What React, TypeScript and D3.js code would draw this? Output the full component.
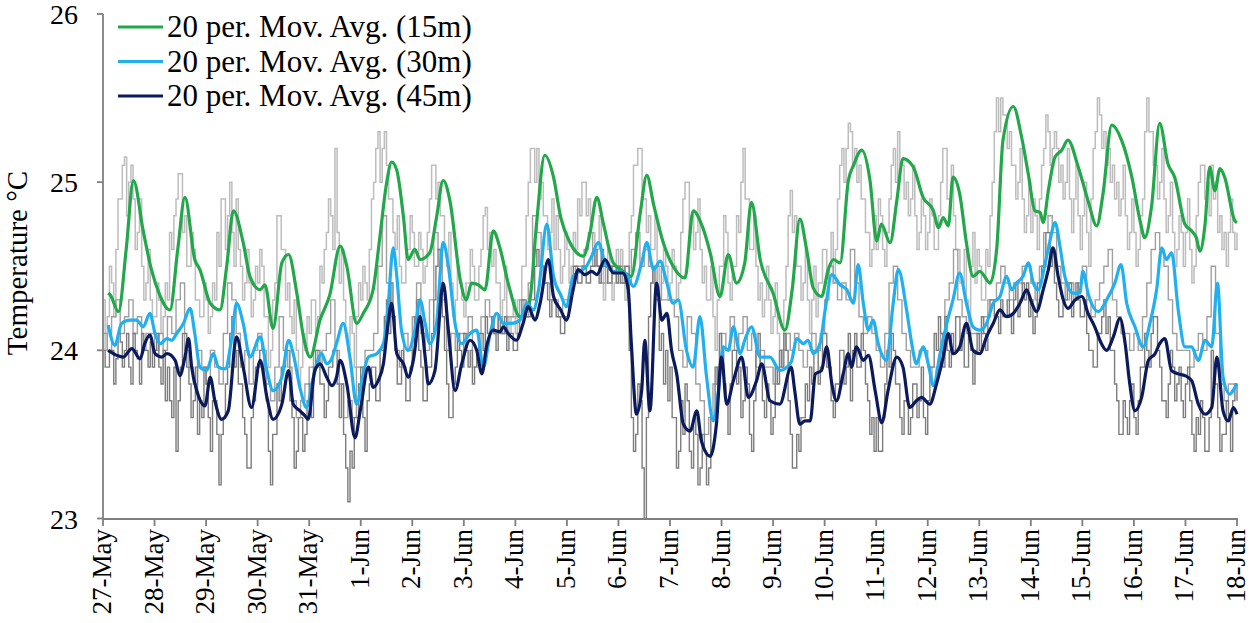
import React from 'react';
import * as d3 from 'd3';

const dayLabels = ['27-May','28-May','29-May','30-May','31-May','1-Jun','2-Jun','3-Jun','4-Jun','5-Jun','6-Jun','7-Jun','8-Jun','9-Jun','10-Jun','11-Jun','12-Jun','13-Jun','14-Jun','15-Jun','16-Jun','17-Jun','18-Jun'];
const yTicks = [23, 24, 25, 26];
const seriesNames = ['20 per. Mov. Avg. (15m)', '20 per. Mov. Avg. (30m)', '20 per. Mov. Avg. (45m)'];
const seriesColors = ['#22a84a', '#20b0f0', '#0b1a5c'];

// raw hourly readings (15 m sensor, light grey)
const raw15PerDay = 24;
const raw15 = [
  24.3,24.0,24.2,24.5,24.4,24.2,24.6,24.9,24.9,25.1,25.15,24.8,25.0,25.1,24.9,24.6,24.7,24.9,24.5,24.3,24.4,24.6,24.3,24.2,
  24.2,24.4,24.3,24.1,24.2,24.4,24.3,24.7,24.6,24.8,24.9,25.05,25.05,24.7,24.8,24.5,24.5,24.7,24.6,24.3,24.3,24.2,24.2,24.4,
  24.3,24.1,24.2,24.4,24.3,24.7,24.5,24.9,24.9,24.6,24.8,25.0,24.7,24.5,24.9,24.6,24.5,24.3,24.4,24.6,24.4,24.2,24.3,24.5,
  24.4,24.6,24.5,24.2,24.2,23.9,24.0,24.3,24.4,24.8,24.8,24.6,24.6,24.3,24.4,24.2,24.1,24.3,24.0,23.8,23.9,24.1,24.0,24.2,
  24.1,24.3,24.3,24.1,24.2,24.5,24.4,24.6,24.7,24.9,24.8,24.6,25.2,24.7,24.4,24.6,24.3,24.1,24.0,24.2,24.1,23.9,24.2,24.4,
  24.3,24.5,24.4,24.3,24.6,24.9,25.0,25.2,25.3,25.0,25.2,25.3,25.1,24.9,24.9,24.7,24.6,24.8,24.5,24.4,24.4,24.6,24.6,24.8,
  24.7,24.5,24.5,24.7,24.6,24.4,24.5,24.7,24.9,25.1,25.1,24.9,25.0,24.8,24.8,24.6,24.5,24.7,24.4,24.2,24.3,24.5,24.4,24.3,
  24.2,24.4,24.4,24.6,24.5,24.3,24.3,24.5,24.6,24.8,24.85,24.6,24.7,24.5,24.6,24.4,24.4,24.2,24.3,24.5,24.2,24.1,24.2,24.3,
  24.1,24.3,24.3,24.5,24.5,24.8,25.0,25.2,25.2,25.0,25.2,24.9,25.0,24.8,24.8,24.6,24.7,24.9,24.6,24.8,24.6,24.4,24.5,24.7,
  24.6,24.4,24.5,24.7,24.6,24.9,24.8,25.0,25.0,24.8,24.9,24.7,24.7,24.5,24.6,24.8,24.5,24.3,24.4,24.6,24.5,24.3,24.4,24.6,
  24.4,24.6,24.5,24.3,24.4,24.7,24.8,25.1,25.1,25.2,25.2,24.9,24.9,24.7,24.8,24.6,24.6,24.8,24.5,24.3,24.4,24.6,24.5,24.3,
  24.4,24.6,24.5,24.3,24.4,24.7,24.9,25.0,25.0,24.7,24.8,24.6,24.7,24.9,24.6,24.4,24.5,24.3,24.3,24.5,24.2,24.0,24.3,24.5,
  24.5,24.8,24.7,24.4,24.3,24.5,24.5,24.8,24.7,25.0,25.2,24.9,24.9,24.6,24.6,24.8,24.5,24.3,24.4,24.2,24.3,24.5,24.3,24.1,
  24.2,24.4,24.1,23.9,24.0,24.3,24.5,24.8,24.95,24.7,24.8,24.5,24.5,24.3,24.4,24.6,24.3,24.1,24.3,24.5,24.2,24.4,24.4,24.6,
  24.6,24.4,24.5,24.7,24.4,24.6,24.9,25.1,25.2,25.0,25.2,25.35,25.3,25.1,25.2,25.0,25.1,24.9,24.9,24.7,24.7,24.5,24.6,24.8,
  24.6,24.9,24.8,24.6,24.5,24.7,24.9,25.1,25.2,25.0,25.3,25.1,25.1,24.9,25.0,24.8,24.9,25.1,24.8,24.6,24.7,24.9,24.8,24.6,
  24.7,24.9,24.8,24.6,24.6,24.8,25.0,25.2,25.2,24.9,24.9,25.1,24.8,24.6,24.6,24.4,24.4,24.6,24.3,24.1,24.5,24.7,24.4,24.6,
  24.5,24.3,24.3,24.6,24.5,24.8,25.0,25.3,25.5,25.3,25.5,25.4,25.4,25.2,25.3,25.1,25.1,24.9,25.0,25.2,24.9,24.7,24.8,25.0,
  24.7,24.9,24.8,24.6,24.9,25.1,25.2,25.4,25.3,25.1,25.2,25.3,25.2,25.0,25.1,24.9,25.0,25.2,24.9,24.7,24.9,25.1,24.8,24.6,
  24.8,25.0,24.7,24.5,24.9,25.2,25.3,25.5,25.4,25.2,25.3,25.1,25.2,25.0,25.1,24.9,25.0,24.8,24.9,25.1,24.8,24.6,24.7,24.9,
  24.7,24.5,24.6,24.8,24.9,25.3,25.5,25.3,25.3,25.1,25.1,24.9,25.0,25.2,24.9,24.7,24.8,25.0,24.7,24.5,24.6,24.8,24.7,24.5,
  24.7,24.9,24.6,24.4,24.5,24.8,25.0,25.1,25.1,24.9,25.0,24.8,25.1,24.9,25.0,24.7,24.8,24.6,24.7,24.5,24.7,24.9,24.7,24.6,
  24.7
];

// raw 2-hourly readings (30 m sensor, mid grey)
const raw30PerDay = 12;
const raw30 = [
  24.1,24.0,24.2,24.3,24.1,24.2,24.3,24.1,24.2,24.0,24.1,24.1,
  24.0,24.1,24.0,24.2,24.1,24.3,24.4,24.0,23.9,23.8,24.0,23.9,
  23.8,24.0,23.9,23.8,24.1,24.4,24.3,24.1,23.9,24.0,23.8,24.0,
  24.1,24.0,23.8,23.7,23.9,24.2,24.0,23.9,23.7,23.6,23.7,23.8,
  23.9,24.0,23.9,24.0,24.1,24.3,24.0,23.8,23.6,23.7,23.6,23.9,
  23.9,24.0,24.0,24.1,24.5,24.8,24.4,24.2,24.0,23.9,24.1,24.0,
  24.2,24.4,24.1,24.0,24.3,24.7,24.6,24.3,24.0,24.1,24.0,24.1,
  24.1,24.2,23.9,24.0,24.2,24.3,24.2,24.1,24.2,24.1,24.2,24.2,
  24.2,24.3,24.2,24.4,24.8,24.7,24.5,24.4,24.3,24.3,24.2,24.3,
  24.3,24.4,24.5,24.5,24.6,24.7,24.5,24.5,24.4,24.5,24.5,24.5,
  24.5,24.4,24.4,24.6,24.7,24.5,24.6,24.5,24.4,24.5,24.3,24.3,
  24.3,24.2,24.0,23.9,24.2,24.1,23.8,23.7,23.5,23.6,23.8,23.9,
  24.1,24.0,24.2,24.0,24.1,24.2,24.0,24.1,23.9,24.0,23.9,23.9,
  23.8,23.9,24.0,24.1,24.0,24.1,24.0,23.9,24.0,24.1,24.0,24.1,
  24.3,24.5,24.4,24.3,24.4,24.3,24.6,24.4,24.2,24.1,24.2,24.1,
  24.0,23.9,24.1,24.4,24.5,24.3,24.1,24.0,23.9,23.9,24.0,24.0,
  23.9,23.8,23.9,24.1,24.3,24.4,24.6,24.3,24.2,24.1,24.1,24.1,
  24.1,24.2,24.3,24.3,24.4,24.5,24.4,24.3,24.4,24.4,24.5,24.5,
  24.4,24.3,24.5,24.7,24.8,24.7,24.5,24.4,24.3,24.4,24.3,24.4,
  24.5,24.3,24.2,24.3,24.4,24.5,24.6,24.3,24.2,24.1,24.1,24.0,
  24.1,24.0,24.2,24.4,24.6,24.7,24.6,24.5,24.3,24.1,24.0,24.0,
  24.0,23.9,24.0,24.1,24.0,24.2,24.5,24.1,23.8,23.7,23.8,23.8,
  23.8
];

// raw hourly readings (45 m sensor, dark grey)
const raw45PerDay = 24;
const raw45 = [
  24.0,23.9,23.9,24.0,24.0,23.8,23.95,24.1,24.05,23.9,24.0,24.1,23.9,23.8,24.1,24.0,23.95,23.8,24.1,24.0,24.0,23.9,24.05,23.9,
  24.0,24.1,23.9,23.8,24.0,23.7,23.9,23.7,23.6,23.9,23.4,23.7,23.9,24.1,24.1,23.9,23.8,23.6,23.7,23.9,23.5,23.7,23.6,23.9,
  23.8,23.6,23.4,23.7,23.7,23.5,23.2,23.5,23.6,23.8,23.9,24.1,24.2,23.9,24.0,23.8,23.8,23.6,23.5,23.3,23.3,23.6,23.7,23.9,
  23.9,24.0,24.0,23.8,23.7,23.4,23.2,23.5,23.5,23.8,23.7,23.9,23.9,24.0,24.0,23.7,23.6,23.3,23.4,23.6,23.6,23.4,23.5,23.7,
  23.8,23.6,23.9,24.0,24.0,23.8,23.8,23.6,23.7,23.9,23.9,24.0,24.0,23.8,23.6,23.8,23.5,23.3,23.1,23.4,23.3,23.6,23.6,23.8,
  23.9,23.6,23.4,23.7,23.8,23.9,23.9,23.7,23.7,24.0,24.0,24.2,24.3,24.1,24.4,24.2,24.0,23.8,23.8,24.0,23.9,23.7,23.7,23.9,
  24.0,24.2,24.3,24.0,23.9,23.7,23.7,23.9,23.9,24.1,24.3,24.5,24.6,24.4,24.2,24.0,23.8,23.6,23.6,23.8,23.9,24.1,24.0,23.9,
  24.1,24.0,23.9,24.0,23.8,23.9,24.0,24.1,24.1,24.0,24.2,24.1,24.1,24.2,24.1,24.0,24.2,24.1,24.1,24.2,24.0,24.1,24.1,24.0,
  24.0,24.1,24.2,24.3,24.3,24.2,24.2,24.3,24.3,24.5,24.6,24.5,24.5,24.4,24.4,24.3,24.2,24.3,24.3,24.2,24.2,24.1,24.1,24.2,
  24.2,24.3,24.4,24.5,24.5,24.4,24.4,24.5,24.5,24.4,24.4,24.5,24.5,24.6,24.5,24.4,24.6,24.5,24.5,24.4,24.4,24.5,24.5,24.4,
  24.5,24.4,24.4,24.5,24.5,24.0,23.6,23.4,23.5,23.8,23.7,23.3,23.0,23.6,24.2,24.4,24.5,24.3,24.3,24.0,24.1,23.8,24.0,23.7,
  23.9,23.6,23.6,23.3,23.4,23.7,23.5,23.8,23.7,23.4,23.3,23.6,23.5,23.2,23.3,23.5,23.4,23.2,23.3,23.6,23.6,23.9,23.8,24.1,
  24.0,23.8,23.7,23.5,23.8,24.0,24.0,23.8,23.9,23.6,23.7,23.9,23.8,23.5,23.4,23.7,24.0,24.1,23.9,23.7,23.6,23.8,23.7,23.5,
  23.6,23.9,23.8,24.0,23.9,24.1,24.0,23.7,23.5,23.3,23.3,23.5,23.4,23.6,23.6,23.8,23.7,23.9,23.8,24.0,24.0,23.8,23.9,24.1,
  24.1,23.9,23.9,23.7,23.6,23.8,23.8,24.0,24.0,23.8,23.9,24.1,23.7,24.0,24.1,23.9,23.9,24.1,24.0,23.8,23.7,23.5,23.6,23.4,
  23.6,23.4,23.4,23.6,23.8,24.0,23.9,24.1,24.0,23.8,23.8,23.6,23.5,23.7,23.7,23.5,23.6,23.8,23.8,23.6,23.7,23.9,23.6,23.5,
  23.7,23.9,23.9,24.1,24.0,24.2,24.1,23.9,24.2,24.0,23.9,24.1,24.0,24.2,24.2,24.0,24.1,23.9,23.9,24.1,24.0,23.8,24.0,24.1,
  24.0,24.2,24.1,24.0,24.2,24.3,24.3,24.2,24.2,24.1,24.3,24.2,24.2,24.3,24.2,24.1,24.3,24.4,24.2,24.3,24.4,24.3,24.4,24.2,
  24.3,24.1,24.2,24.4,24.4,24.5,24.5,24.7,24.7,24.5,24.6,24.4,24.3,24.2,24.2,24.3,24.3,24.4,24.4,24.2,24.3,24.4,24.3,24.2,
  24.2,24.3,24.1,24.0,24.0,23.9,23.9,24.1,24.1,24.2,24.3,24.1,24.2,24.0,24.0,23.8,23.7,23.5,23.5,23.7,23.6,23.5,23.7,23.8,
  23.6,23.5,23.7,23.9,23.9,24.1,24.0,23.9,24.1,24.2,24.2,24.0,23.9,23.7,23.7,23.6,23.8,24.0,23.9,23.7,23.8,23.9,23.7,23.6,
  23.8,23.9,23.7,23.5,23.4,23.6,23.5,23.7,23.6,23.4,23.4,23.6,24.0,23.8,23.8,23.6,23.4,23.5,23.5,23.7,23.6,23.4,23.7,23.8,
  23.7
];

// 20-period moving averages: [day offset from 27-May, temperature]
const ma15: [number, number][] = [
  [0.10,24.34],[0.14,24.33],[0.30,24.23],[0.45,24.6],[0.59,25.01],[0.78,24.71],[0.94,24.48],[1.10,24.33],[1.24,24.25],[1.30,24.24],[1.45,24.6],[1.59,24.91],[1.78,24.54],[1.88,24.48],[2.08,24.28],[2.27,24.24],[2.40,24.5],[2.53,24.83],[2.72,24.64],[2.85,24.44],[3.05,24.36],[3.14,24.39],[3.30,24.13],[3.47,24.52],[3.60,24.57],[3.76,24.34],[3.89,24.08],[4.02,23.96],[4.21,24.18],[4.40,24.33],[4.60,24.62],[4.73,24.50],[4.92,24.16],[5.05,24.22],[5.24,24.36],[5.37,24.67],[5.50,24.99],[5.60,25.12],[5.70,25.07],[5.83,24.79],[5.92,24.54],[6.05,24.60],[6.15,24.54],[6.34,24.58],[6.47,24.79],[6.60,25.01],[6.73,24.89],[6.93,24.42],[7.05,24.30],[7.15,24.40],[7.28,24.39],[7.41,24.36],[7.57,24.71],[7.70,24.61],[7.86,24.40],[8.09,24.20],[8.28,24.30],[8.41,24.75],[8.57,25.16],[8.74,25.03],[8.88,24.79],[9.06,24.64],[9.32,24.56],[9.45,24.70],[9.58,24.91],[9.71,24.75],[9.90,24.52],[10.09,24.47],[10.25,24.44],[10.42,24.81],[10.55,25.04],[10.68,24.87],[10.87,24.64],[11.06,24.50],[11.29,24.43],[11.45,24.83],[11.61,24.75],[11.78,24.58],[11.97,24.32],[12.13,24.57],[12.29,24.40],[12.45,24.52],[12.58,24.88],[12.75,24.54],[13.00,24.34],[13.23,24.12],[13.37,24.36],[13.52,24.78],[13.65,24.60],[13.78,24.37],[13.94,24.32],[14.07,24.48],[14.17,24.54],[14.30,24.52],[14.46,25.01],[14.56,25.10],[14.72,25.19],[14.88,25.01],[15.01,24.65],[15.10,24.75],[15.27,24.64],[15.40,24.89],[15.52,25.14],[15.72,25.09],[15.91,24.91],[16.11,24.83],[16.21,24.73],[16.30,24.79],[16.40,24.74],[16.49,25.03],[16.62,24.93],[16.75,24.64],[16.88,24.44],[17.01,24.47],[17.21,24.40],[17.34,24.61],[17.46,25.25],[17.66,25.45],[17.82,25.27],[17.95,25.05],[18.08,24.83],[18.18,24.82],[18.24,24.76],[18.34,24.95],[18.47,25.15],[18.60,25.19],[18.72,25.25],[18.92,25.09],[19.11,24.89],[19.28,24.74],[19.40,24.93],[19.57,25.34],[19.76,25.25],[19.96,25.03],[20.12,24.77],[20.21,24.67],[20.34,24.85],[20.50,25.35],[20.66,25.11],[20.79,25.03],[20.99,24.75],[21.12,24.71],[21.21,24.67],[21.28,24.59],[21.38,24.75],[21.47,25.09],[21.57,24.95],[21.67,25.08],[21.76,25.03],[21.96,24.77],[22.0,24.76]
];

const ma30: [number, number][] = [
  [0.10,24.15],[0.23,24.03],[0.36,24.16],[0.52,24.18],[0.65,24.18],[0.78,24.14],[0.91,24.22],[1.01,24.10],[1.11,24.04],[1.24,24.07],[1.33,24.06],[1.43,24.10],[1.56,24.16],[1.69,24.25],[1.78,24.10],[1.88,23.90],[2.01,23.88],[2.14,23.98],[2.24,23.90],[2.37,23.89],[2.50,24.08],[2.59,24.28],[2.72,24.16],[2.85,23.96],[3.05,24.08],[3.18,23.88],[3.30,23.76],[3.47,23.84],[3.60,24.06],[3.69,23.98],[3.82,23.78],[3.95,23.66],[4.08,23.84],[4.24,23.98],[4.34,23.92],[4.42,23.94],[4.53,24.04],[4.66,24.16],[4.79,23.96],[4.92,23.68],[5.05,23.86],[5.15,23.96],[5.31,23.98],[5.44,24.04],[5.53,24.26],[5.63,24.61],[5.70,24.44],[5.79,24.12],[5.92,24.00],[6.05,24.12],[6.15,24.30],[6.25,24.16],[6.34,24.04],[6.47,24.16],[6.60,24.64],[6.70,24.50],[6.83,24.16],[6.96,24.04],[7.12,24.10],[7.25,24.12],[7.38,23.90],[7.51,24.10],[7.64,24.22],[7.77,24.16],[7.93,24.16],[8.09,24.18],[8.22,24.28],[8.35,24.24],[8.45,24.36],[8.61,24.75],[8.74,24.44],[8.88,24.33],[8.99,24.26],[9.12,24.44],[9.25,24.47],[9.38,24.50],[9.48,24.56],[9.61,24.64],[9.74,24.52],[9.90,24.47],[10.13,24.46],[10.29,24.38],[10.45,24.52],[10.55,24.64],[10.68,24.48],[10.81,24.53],[10.94,24.40],[11.06,24.28],[11.16,24.30],[11.32,24.00],[11.45,23.90],[11.58,24.20],[11.71,23.84],[11.84,23.58],[11.94,23.76],[12.03,24.02],[12.13,24.00],[12.23,24.14],[12.36,23.98],[12.45,24.06],[12.58,24.14],[12.75,23.96],[12.94,23.96],[13.13,23.88],[13.35,23.93],[13.46,24.07],[13.59,24.04],[13.68,24.06],[13.78,23.98],[13.91,24.04],[14.01,24.24],[14.14,24.45],[14.30,24.39],[14.43,24.36],[14.56,24.28],[14.65,24.51],[14.75,24.28],[14.85,24.12],[14.94,24.18],[15.04,24.04],[15.20,23.94],[15.33,24.28],[15.43,24.48],[15.59,24.24],[15.69,24.04],[15.78,23.92],[15.91,24.02],[16.01,23.92],[16.11,23.79],[16.24,23.98],[16.37,24.16],[16.49,24.30],[16.62,24.46],[16.75,24.28],[16.88,24.14],[17.01,24.12],[17.14,24.16],[17.27,24.28],[17.40,24.32],[17.53,24.44],[17.63,24.36],[17.72,24.40],[17.85,24.44],[17.95,24.52],[18.05,24.40],[18.14,24.36],[18.28,24.52],[18.37,24.65],[18.47,24.76],[18.57,24.61],[18.66,24.44],[18.82,24.34],[18.95,24.34],[19.01,24.47],[19.11,24.34],[19.31,24.23],[19.47,24.30],[19.63,24.40],[19.75,24.51],[19.86,24.28],[20.02,24.14],[20.18,24.02],[20.31,24.16],[20.44,24.36],[20.54,24.61],[20.63,24.54],[20.73,24.58],[20.86,24.24],[20.99,24.02],[21.12,24.02],[21.25,23.94],[21.38,24.06],[21.51,24.02],[21.62,24.40],[21.73,23.84],[21.86,23.74],[21.96,23.78],[22.0,23.80]
];

const ma45: [number, number][] = [
  [0.10,24.00],[0.27,23.97],[0.39,23.96],[0.56,24.01],[0.72,23.95],[0.81,24.04],[0.91,24.09],[1.01,23.98],[1.14,23.96],[1.24,23.98],[1.40,23.94],[1.49,23.85],[1.59,23.96],[1.66,24.07],[1.72,23.90],[1.82,23.76],[1.98,23.67],[2.08,23.84],[2.17,23.70],[2.30,23.59],[2.43,23.64],[2.59,24.08],[2.72,23.90],[2.88,23.66],[3.05,23.94],[3.18,23.72],[3.30,23.59],[3.47,23.68],[3.60,23.88],[3.69,23.68],[3.82,23.64],[3.92,23.61],[3.98,23.59],[4.11,23.88],[4.21,23.92],[4.34,23.84],[4.44,23.79],[4.53,23.84],[4.60,23.94],[4.73,23.80],[4.89,23.48],[4.99,23.64],[5.15,23.90],[5.24,23.78],[5.34,23.82],[5.44,23.92],[5.53,24.16],[5.60,24.28],[5.70,23.98],[5.83,23.92],[5.92,23.84],[6.02,23.94],[6.15,24.20],[6.25,23.96],[6.31,23.80],[6.44,23.88],[6.60,24.40],[6.70,24.12],[6.83,23.76],[6.96,23.92],[7.12,24.06],[7.25,24.00],[7.35,23.86],[7.44,24.02],[7.57,24.12],[7.70,24.11],[7.77,24.14],[7.86,24.10],[8.02,24.06],[8.15,24.16],[8.25,24.26],[8.38,24.18],[8.48,24.28],[8.64,24.54],[8.74,24.32],[8.88,24.24],[8.99,24.18],[9.12,24.36],[9.22,24.48],[9.35,24.45],[9.48,24.47],[9.58,24.45],[9.74,24.54],[9.90,24.46],[10.09,24.46],[10.19,24.36],[10.25,24.04],[10.35,23.62],[10.45,23.76],[10.51,24.06],[10.61,23.64],[10.74,24.40],[10.84,24.18],[10.94,24.22],[11.03,24.00],[11.13,23.86],[11.26,23.56],[11.39,23.52],[11.52,23.64],[11.61,23.46],[11.78,23.37],[11.90,23.56],[12.00,23.96],[12.10,23.68],[12.23,23.82],[12.39,23.96],[12.52,23.72],[12.68,23.82],[12.78,23.92],[12.94,23.70],[13.13,23.68],[13.35,23.90],[13.42,23.76],[13.52,23.56],[13.62,23.58],[13.72,23.58],[13.82,23.86],[13.94,23.88],[14.04,24.02],[14.14,23.80],[14.23,23.70],[14.36,23.86],[14.46,23.98],[14.52,23.90],[14.62,24.02],[14.75,23.94],[14.85,23.97],[14.98,23.76],[15.11,23.57],[15.23,23.76],[15.40,23.96],[15.52,23.90],[15.65,23.66],[15.78,23.70],[15.88,23.72],[16.04,23.68],[16.17,23.80],[16.30,23.96],[16.40,24.10],[16.49,23.98],[16.62,24.02],[16.75,24.16],[16.88,24.00],[17.01,23.98],[17.14,24.08],[17.27,24.16],[17.40,24.24],[17.53,24.20],[17.66,24.22],[17.79,24.28],[17.92,24.36],[18.02,24.28],[18.11,24.23],[18.24,24.36],[18.34,24.48],[18.43,24.61],[18.53,24.44],[18.63,24.30],[18.72,24.25],[18.86,24.30],[18.99,24.32],[19.11,24.22],[19.24,24.14],[19.37,24.04],[19.47,24.00],[19.60,24.08],[19.73,24.19],[19.83,24.04],[19.92,23.80],[20.02,23.64],[20.15,23.72],[20.28,23.94],[20.41,23.98],[20.50,24.04],[20.60,24.07],[20.73,23.88],[20.86,23.86],[20.99,23.85],[21.12,23.82],[21.25,23.68],[21.38,23.62],[21.51,23.66],[21.61,23.96],[21.73,23.64],[21.83,23.58],[21.93,23.66],[22.0,23.62]
];

const W = 1250;
const H = 623;
const FONT = '"Liberation Serif", "DejaVu Serif", "Times New Roman", serif';

export default function App() {
  const x = d3.scaleLinear().domain([0, dayLabels.length - 1]).range([103, 1237]);
  const y = d3.scaleLinear().domain([23, 26]).range([518.5, 14]);

  const rawLine = (perDay: number) => d3.line<number>()
    .x((_, i) => x(i / perDay))
    .y((v) => y(v))
    .curve(d3.curveStepAfter);

  const maLine = d3.line<[number, number]>()
    .x((d) => x(d[0]))
    .y((d) => y(d[1]))
    .curve(d3.curveMonotoneX);

  const maSeries = [ma15, ma30, ma45];
  const axisColor = '#7f7f7f';
  const textStyle = { fontFamily: FONT };

  return (
    <svg width={W} height={H} style={{ position: 'absolute', left: 0, top: 0, background: '#fff', fontFamily: FONT }}>
      <rect x={0} y={0} width={W} height={H} fill="#fff" />
      {/* raw data */}
      <path d={rawLine(raw15PerDay)(raw15) || ''} fill="none" stroke="#bdbdbd" strokeWidth={1.5} />
      <path d={rawLine(raw30PerDay)(raw30) || ''} fill="none" stroke="#a0a0a0" strokeWidth={1.4} />
      <path d={rawLine(raw45PerDay)(raw45) || ''} fill="none" stroke="#7d7d7d" strokeWidth={1.4} />
      {/* moving averages */}
      {maSeries.map((s, i) => (
        <path key={i} d={maLine(s) || ''} fill="none" stroke={seriesColors[i]} strokeWidth={3.2} strokeLinejoin="round" />
      ))}
      {/* axes */}
      <line x1={103} x2={103} y1={14} y2={519} stroke={axisColor} strokeWidth={1.8} />
      <line x1={103} x2={1238} y1={519} y2={519} stroke={axisColor} strokeWidth={1.8} />
      {yTicks.map((t) => (
        <g key={t}>
          <line x1={97} x2={103} y1={y(t)} y2={y(t)} stroke={axisColor} strokeWidth={1.8} />
          <text x={78} y={y(t) + 10} textAnchor="end" fontSize={28} fill="#000" style={textStyle}>{t}</text>
        </g>
      ))}
      {dayLabels.map((lab, i) => (
        <g key={lab}>
          <line x1={x(i)} x2={x(i)} y1={519} y2={526} stroke={axisColor} strokeWidth={1.8} />
          <text
            transform={`translate(${x(i) + 8},${529}) rotate(-90)`}
            textAnchor="end"
            fontSize={27}
            fill="#000"
            style={textStyle}
          >{lab}</text>
        </g>
      ))}
      <text transform={`translate(27,263) rotate(-90)`} textAnchor="middle" fontSize={29} fill="#000" style={textStyle}>Temperature °C</text>
      {/* legend */}
      {seriesNames.map((name, i) => (
        <g key={name}>
          <line x1={118} x2={163} y1={27 + i * 34.5} y2={27 + i * 34.5} stroke={seriesColors[i]} strokeWidth={3} />
          <text x={167} y={37 + i * 34.5} fontSize={31} fill="#000" style={textStyle}>{name}</text>
        </g>
      ))}
    </svg>
  );
}
